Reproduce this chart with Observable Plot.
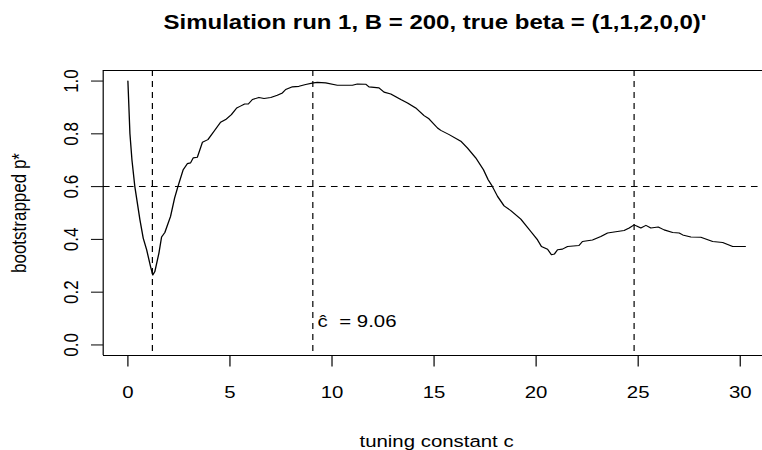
<!DOCTYPE html>
<html>
<head>
<meta charset="utf-8">
<script src="https://cdn.jsdelivr.net/npm/d3@7"></script>
<script src="https://cdn.jsdelivr.net/npm/@observablehq/plot@0.6"></script>
<style>
  html, body { margin: 0; padding: 0; background: #fff; overflow: hidden; }
  #chart { width: 762px; height: 450px; }
</style>
</head>
<body>
<div id="chart"></div>
<script>
// ---- data ----
const cVals = [0, 0.1, 0.2, 0.34, 0.59, 0.75, 0.92, 1.11, 1.22, 1.32, 1.52, 1.65, 1.81, 2.09, 2.29, 2.45, 2.71, 2.91, 3.07, 3.2, 3.4, 3.65, 3.92, 4.22, 4.54, 4.79, 5.07, 5.33, 5.49, 5.72, 5.9, 6.1, 6.42, 6.67, 7.0, 7.32, 7.57, 7.73, 8.06, 8.38, 8.71, 9.09, 9.28, 9.69, 10.26, 11.0, 11.24, 11.65, 11.81, 12.3, 12.55, 12.88, 13.37, 13.7, 14.1, 14.51, 14.75, 15.17, 15.33, 15.74, 16.31, 16.64, 17.04, 17.42, 17.65, 17.86, 18.11, 18.43, 18.76, 19.25, 19.74, 20.07, 20.26, 20.56, 20.75, 20.9, 21.05, 21.29, 21.54, 22.1, 22.27, 22.76, 23.17, 23.5, 23.82, 24.31, 24.56, 24.8, 24.95, 25.13, 25.38, 25.62, 25.98, 26.27, 26.69, 27.01, 27.18, 27.58, 28.07, 28.65, 29.14, 29.63, 30.25];
const pVals = [1.0, 0.80, 0.70, 0.60, 0.474, 0.405, 0.36, 0.297, 0.265, 0.278, 0.348, 0.409, 0.426, 0.487, 0.557, 0.60, 0.664, 0.687, 0.69, 0.709, 0.711, 0.768, 0.778, 0.81, 0.844, 0.854, 0.873, 0.898, 0.904, 0.913, 0.913, 0.93, 0.938, 0.934, 0.938, 0.946, 0.955, 0.968, 0.978, 0.98, 0.987, 0.993, 0.995, 0.993, 0.984, 0.984, 0.989, 0.988, 0.978, 0.974, 0.958, 0.951, 0.93, 0.917, 0.898, 0.869, 0.857, 0.822, 0.813, 0.797, 0.772, 0.746, 0.709, 0.664, 0.626, 0.60, 0.563, 0.527, 0.509, 0.477, 0.43, 0.398, 0.373, 0.363, 0.342, 0.345, 0.361, 0.363, 0.373, 0.377, 0.392, 0.398, 0.411, 0.424, 0.428, 0.434, 0.443, 0.455, 0.45, 0.443, 0.453, 0.443, 0.447, 0.436, 0.426, 0.424, 0.417, 0.409, 0.408, 0.392, 0.388, 0.373, 0.373];
const vLines = [1.2, 9.06, 24.8];
const hLines = [0.6];
const xTicks = [0, 5, 10, 15, 20, 25, 30];
const yTicks = [0, 0.2, 0.4, 0.6, 0.8, 1.0];
const cHat = 9.06;
const annotY = 0.1;
const annotText = "ĉ";
const annotValue = "= 9.06";
const titleText = "Simulation run 1, B = 200, true beta = (1,1,2,0,0)'";
const xLabel = "tuning constant c";
const yLabel = "bootstrapped p*";
const xDomain = [-1.21, 31.46];
const yDomain = [-0.04, 1.04];

// ---- chart ----
const data = cVals.map((c, i) => ({c, p: pVals[i]}));
const S = 1.2;              // the reference is horizontally stretched
const W0 = 762 / S;         // drawn at 635 wide, then stretched to 762
const font = "'Liberation Sans', Arial, Helvetica, sans-serif";

const svg = Plot.plot({
  width: W0,
  height: 450,
  marginLeft: 85.8,
  marginRight: 0,
  marginTop: 70,
  marginBottom: 95,
  style: {fontFamily: font, fontSize: "17px", color: "#000", background: "#fff"},
  x: {domain: xDomain, range: [85.5, 641.2], ticks: xTicks, tickSize: 11.5, tickPadding: 19, label: null},
  y: {domain: yDomain, ticks: yTicks, tickSize: 10, tickFormat: () => "", label: null},
  marks: [
    Plot.ruleY([yDomain[0], yDomain[1]], {stroke: "#000", strokeWidth: 1}),
    Plot.ruleX([xDomain[0]], {stroke: "#000", strokeWidth: 1}),
    Plot.ruleX(vLines, {stroke: "#000", strokeWidth: 1, strokeDasharray: "6,5"}),
    Plot.ruleY(hLines, {stroke: "#000", strokeWidth: 1, strokeDasharray: "5.5,4.5"}),
    Plot.line(data, {x: "c", y: "p", stroke: "#000", strokeWidth: 1.1}),
    // y tick labels (rotated, like R)
    Plot.text(yTicks, {y: d => d, text: d => d.toFixed(1), frameAnchor: "left", dx: -21.6, rotate: -90, textAnchor: "middle", lineAnchor: "bottom", fontSize: 17, fill: "#000"}),
    // annotation c-hat = 9.06
    Plot.text([cHat], {x: d => d, y: () => annotY, text: () => annotText, textAnchor: "start", lineAnchor: "bottom", dx: 4, dy: 8, fontSize: 17, fill: "#000"}),
    Plot.text([cHat], {x: d => d, y: () => annotY, text: () => annotValue, textAnchor: "start", lineAnchor: "bottom", dx: 22, dy: 8, fontSize: 17, fill: "#000"}),
    // title and axis labels
    Plot.text([titleText], {frameAnchor: "top", dx: 1.6, dy: -41.7, lineAnchor: "bottom", fontSize: 20, fontWeight: "bold", fill: "#000"}),
    Plot.text([xLabel], {frameAnchor: "bottom", dx: 2.9, dy: 91, lineAnchor: "bottom", fontSize: 17, fill: "#000"}),
    Plot.text([yLabel], {frameAnchor: "left", dx: -65, rotate: -90, textAnchor: "middle", lineAnchor: "bottom", fontSize: 17, fill: "#000"})
  ]
});

svg.setAttribute("width", 762);
svg.setAttribute("height", 450);
svg.setAttribute("preserveAspectRatio", "none");
svg.style.width = "762px";
svg.style.height = "450px";
svg.style.maxWidth = "none";
svg.style.overflow = "hidden";
document.getElementById("chart").appendChild(svg);
</script>
</body>
</html>
